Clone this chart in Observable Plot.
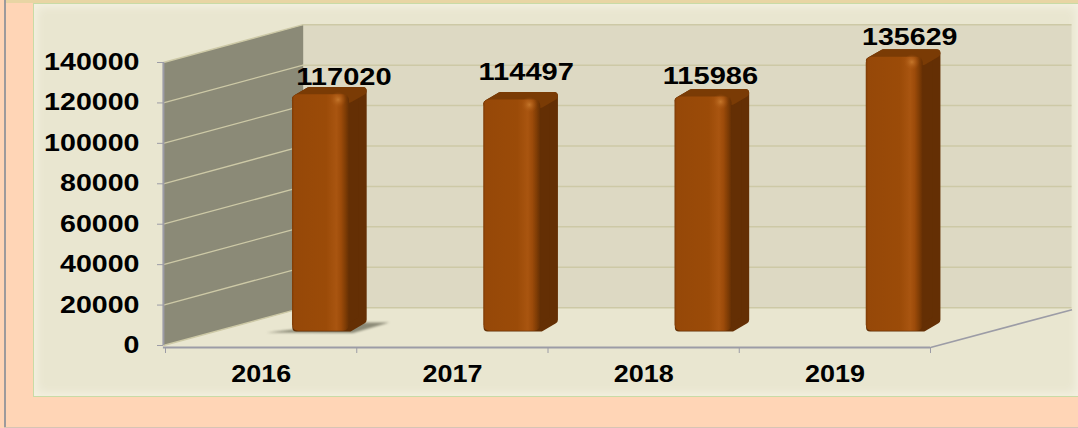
<!DOCTYPE html>
<html>
<head>
<meta charset="utf-8">
<script src="https://cdn.jsdelivr.net/npm/d3@7"></script>
<script src="https://cdn.jsdelivr.net/npm/@observablehq/plot@0.6"></script>
<style>
html,body{margin:0;padding:0;width:1078px;height:428px;overflow:hidden;background:#FFD5B6;}
#edgeLeft{position:absolute;left:4px;top:0;width:2px;height:428px;background:#9d9a9c;}
#edgeBottom{position:absolute;left:4px;top:427px;width:1074px;height:1px;background:#d8c4b4;}
#edgeTop{position:absolute;left:6px;top:0;width:1072px;height:3px;background:#E8D5A4;}
#panel{position:absolute;left:33px;top:3px;width:1045px;height:392px;background:#E9E6D0;border:1px solid #C9DBA6;border-right:none;box-sizing:content-box;box-shadow:inset 0 0 9px 3px #F4F1E2;}
#chart{position:absolute;left:0;top:0;}
svg{background:transparent!important;}
</style>
</head>
<body>
<div id="edgeLeft"></div><div id="edgeBottom"></div><div id="edgeTop"></div><div id="panel"></div>
<div id="chart"></div>
<script>
const years = ["2016", "2017", "2018", "2019"];
const counts = [117020, 114497, 115986, 135629];
const yTicks = [0, 20000, 40000, 60000, 80000, 100000, 120000, 140000];
const xTicks = [0, 1, 2, 3, 4];

// 3D projection constants, in data units
const wallX = -0.011, depthX = 0.72, backEnd = 4.74, depthY = 18700;
const barLeft = 0.664, barW = 0.298, sideX = 0.089, sideY = 3800, barBase = 7000;
const insetX = 0.02, insetY = 1900;
const labelNudge = [[23, -17], [14, -27], [7, -20], [15, -20]];

const bars = years.map((year, i) => ({year, i, v: counts[i], x1: i + barLeft, x2: i + barLeft + barW, y1: barBase, y2: barBase + counts[i]}));
const silhouette = bars.flatMap(b => [
  [b.x1 + insetX, b.y1 + insetY], [b.x2, b.y1 + insetY], [b.x2 + sideX - insetX, b.y1 + sideY + insetY],
  [b.x2 + sideX - insetX, b.y2 + sideY - insetY], [b.x1 + sideX, b.y2 + sideY - insetY], [b.x1 + insetX, b.y2 - insetY]
].map(([x, y]) => ({x, y, z: b.year})));
const topPoly = bars.flatMap(b => [
  [b.x1 + insetX, b.y2 - insetY], [b.x1 + sideX, b.y2 + sideY - insetY], [b.x2 + sideX - insetX, b.y2 + sideY - insetY], [b.x2, b.y2 - insetY]
].map(([x, y]) => ({x, y, z: b.year})));
const shadow = [[0.53, 6400], [0.98, 6200], [1.17, 11400], [0.99, 11400]].map(([x, y]) => ({x, y}));

const INK = "#000";
const GRID = "#CDC9A6";
const AXIS = "#9C9CA6";
const FONT = "'Liberation Sans', Arial, sans-serif";

function defs() {
  const svg = d3.create("svg:defs");
  const g = svg.append("linearGradient").attr("id", "barFront");
  [[0, "#7d3b06"], [0.04, "#964808"], [0.6, "#9B4B08"], [0.78, "#A95510"], [0.86, "#9C4B0A"], [0.94, "#7E3C05"], [1, "#642F04"]]
    .forEach(([o, c]) => g.append("stop").attr("offset", o).attr("stop-color", c));
  const h = svg.append("radialGradient").attr("id", "barGlow");
  [[0, "#C87A2E", 0.9], [1, "#A95510", 0]]
    .forEach(([o, c, a]) => h.append("stop").attr("offset", o).attr("stop-color", c).attr("stop-opacity", a));
  return svg.node();
}

const plot = Plot.plot({
  width: 1078,
  height: 428,
  marginLeft: 165,
  marginRight: 148,
  marginTop: 62,
  marginBottom: 83,
  style: {background: "transparent", fontFamily: FONT},
  x: {domain: [0, 4], axis: null},
  y: {domain: [0, 140000], axis: null},
  marks: [
    defs,
    // back wall
    Plot.rect([0], {x1: depthX, x2: backEnd, y1: depthY, y2: 140000 + depthY, fill: "#DDD9C3"}),
    // side wall
    Plot.line([[wallX, 0], [depthX, depthY], [depthX, 140000 + depthY], [wallX, 140000]], {x: d => d[0], y: d => d[1], fill: "#8B8A77", stroke: null}),
    // gridlines
    Plot.ruleY(yTicks, {x1: depthX, x2: backEnd, y: d => d + depthY, stroke: GRID, strokeWidth: 1.5}),
    Plot.link(yTicks, {x1: wallX, x2: depthX, y1: d => d, y2: d => d + depthY, stroke: GRID, strokeWidth: 1.3}),
    // axes
    Plot.ruleX([wallX], {y1: 0, y2: 140000, stroke: AXIS, strokeWidth: 2}),
    Plot.ruleY([0], {x1: wallX, x2: 4, stroke: AXIS, strokeWidth: 2, dy: 2}),
    Plot.link([0], {x1: 4, x2: backEnd, y1: 0, y2: depthY, stroke: AXIS, strokeWidth: 1.6, dy: 2}),
    Plot.axisY({ticks: yTicks, tickFormat: "d", tickSize: 6, tickPadding: 18, stroke: AXIS, fill: INK, fontSize: 23.5, fontWeight: "bold", label: null, anchor: "left", dx: -2}),
    Plot.axisX({ticks: xTicks, tickFormat: () => "", tickSize: 6, stroke: AXIS, label: null, anchor: "bottom", dy: 2}),
    // bar shadow
    Plot.line(shadow, {x: d => d.x, y: d => d.y, fill: "#8B8A77", stroke: null, imageFilter: "blur(1.2px)"}),
    // bars
    Plot.line(silhouette, {x: "x", y: "y", z: "z", fill: "#642F04", stroke: "#642F04", strokeWidth: 8, strokeLinejoin: "round", imageFilter: "blur(0.5px)"}),
    Plot.line(topPoly, {x: "x", y: "y", z: "z", fill: "#7A3B05", stroke: "#7A3B05", strokeWidth: 8, strokeLinejoin: "round", imageFilter: "blur(0.7px)"}),
    Plot.rect(bars, {x1: "x1", x2: "x2", y1: "y1", y2: "y2", fill: "url(#barFront)", rx: 6, imageFilter: "blur(0.6px)"}),
    Plot.dot(bars, {x: d => d.x1 + 0.8 * barW, y: d => d.y2 - 2400, r: 8, fill: "url(#barGlow)", stroke: null}),
    // category labels
    Plot.text(years, {x: (d, i) => i + 0.5, y: 0, text: d => d, dy: 29, fill: INK, fontSize: 23.5, fontWeight: "bold", className: "cat"}),
    // value labels
    ...bars.map((b, k) => Plot.text([b], {
      x: d => (d.x1 + d.x2) / 2, y: "y2", text: d => String(d.v),
      dx: labelNudge[k][0], dy: labelNudge[k][1], fill: INK, fontSize: 23.5, fontWeight: "bold"
    }))
  ]
});
// The reference's lettering is stretched sideways
d3.select(plot).selectAll("text").each(function () {
  const n = this.textContent.length;
  if (n) d3.select(this).attr("textLength", n * (n === 4 ? 15 : 15.9)).attr("lengthAdjust", "spacingAndGlyphs");
});
document.getElementById("chart").append(plot);
</script>
</body>
</html>
